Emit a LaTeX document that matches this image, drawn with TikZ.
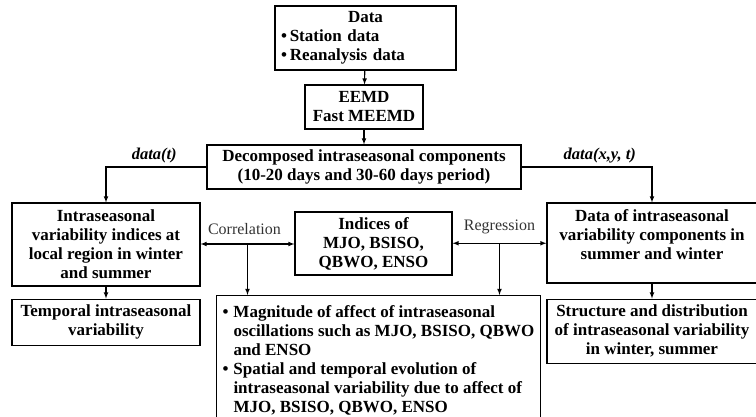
\documentclass[tikz,border=0pt]{standalone}
\usepackage{fontspec}
\setmainfont{Liberation Serif}
\usepackage{tikz}
\usetikzlibrary{arrows,calc,positioning}

\begin{document}
\begin{tikzpicture}[x=1pt, y=-1pt, >=latex, line width=1.1pt,
    font=\fontsize{17}{19}\selectfont\bfseries]
        \tikzset{main box/.style={draw, rectangle, align=center, inner sep=2pt},
            link label/.style={font=\fontsize{16.5}{19}\selectfont\bfseries\itshape},
            stat label/.style={font=\fontsize{16}{19}\selectfont, text=black!80}}

        \useasboundingbox (0,0) rectangle (756,416);

        % Nodes
        \node (data) [main box, minimum height=64pt, text width=169pt, inner xsep=6pt, align=left] at (365.5,38)
            {\makebox[169pt]{Data}\\ \textbullet\,Station data\\ \textbullet\,Reanalysis data};
        \node (eemd) [main box, minimum width=118pt, minimum height=44pt] at (364,107) {EEMD\\Fast MEEMD};
        \node (decomp) [main box, minimum width=314pt, minimum height=44pt] at (364,167)
            {Decomposed intraseasonal components\\(10-20 days and 30-60 days period)};
        \node (intra) [main box, minimum width=188pt, minimum height=83pt] at (106,244.5)
            {Intraseasonal\\variability indices at\\local region in winter\\and summer};
        \node (temporal) [main box, minimum width=188pt, minimum height=46pt, below=12pt of intra]
            {Temporal intraseasonal\\variability};
        \node (indices) [main box, minimum width=157pt, minimum height=63pt] at (373.5,243.5)
            {Indices of\\MJO, BSISO,\\QBWO, ENSO};
        \node (dataof) [main box, minimum width=210pt, minimum height=80pt] at (652,243)
            {Data of intraseasonal\\variability components in\\summer and winter\\[-3pt]};
        \node (structure) [main box, minimum width=210pt, minimum height=64pt, below=15pt of dataof]
            {Structure and distribution\\of intraseasonal variability\\in winter, summer};
        \node (effect) [draw, rectangle, anchor=north west, minimum width=315pt,
            inner xsep=6pt, inner ysep=9pt, align=left] at (216,295)
            {\begin{tabular}{@{}l@{\hspace{5pt}}l@{}}
                \textbullet & Magnitude of affect of intraseasonal\\
                 & oscillations such as MJO, BSISO, QBWO\\
                 & and ENSO\\
                \textbullet & Spatial and temporal evolution of\\
                 & intraseasonal variability due to affect of\\
                 & MJO, BSISO, QBWO, ENSO
            \end{tabular}};

        \coordinate (corr) at ($(intra.east)!0.5!(indices.west)$);
        \coordinate (regr) at ($(indices.east)!0.5!(dataof.west)$);

        % Arrows
        \draw [->] (data) to (eemd);
        \draw [->] (eemd) to (decomp);
        \draw [->] (decomp.west) -| node [link label, above, pos=0.26] {data(t)} (intra.north);
        \draw [->] (decomp.east) -| node [link label, above, pos=0.3] {data(x,y, t)} (dataof.north);
        \draw [->] (intra) to (temporal);
        \draw [->] (dataof) to (structure);
        \draw [<->] (intra.east |- corr) -- (indices.west |- corr);
        \draw [<->] (indices.east |- regr) -- (dataof.west |- regr);
        \node (corrlabel) [stat label, above=5pt of corr, xshift=-3pt] {Correlation};
        \node (regrlabel) [stat label, above=5pt of regr] {Regression};
        \draw [->] (corr) -- (corr |- effect.north);
        \draw [->] (regr) -- (regr |- effect.north);
    \end{tikzpicture}
\end{document}
